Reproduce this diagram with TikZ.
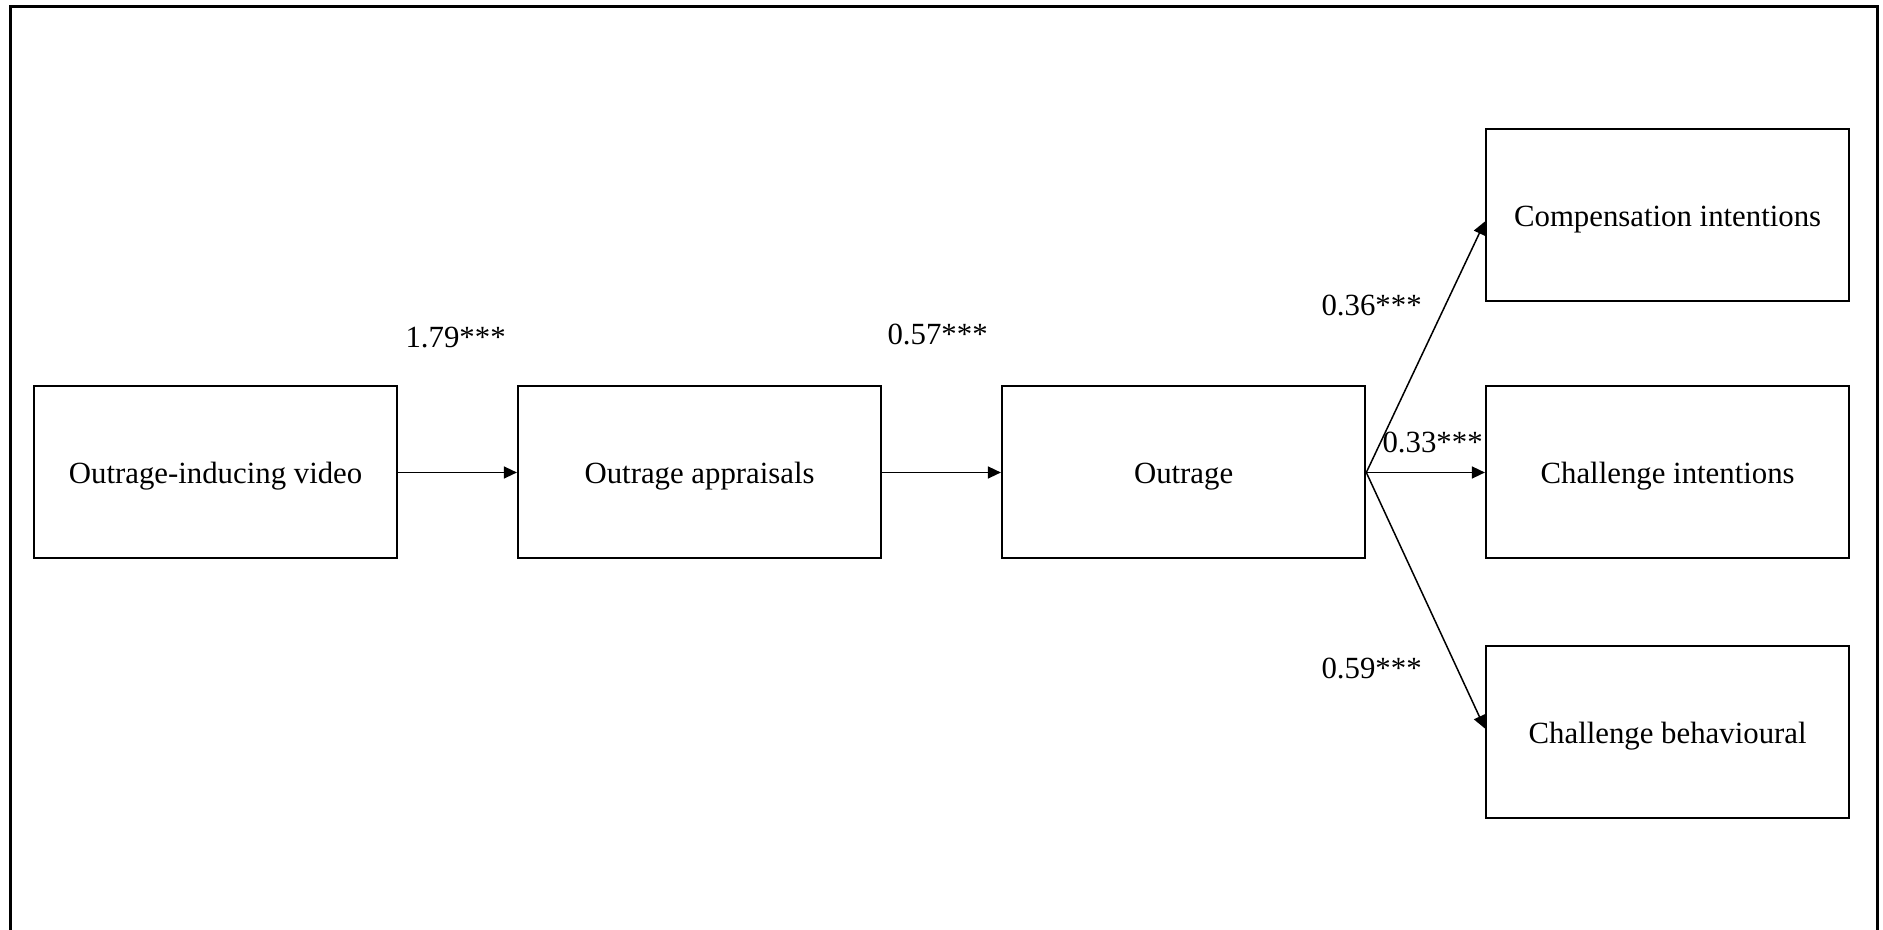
\documentclass[tikz,border=0pt]{standalone}
\usepackage{fontspec}
\setmainfont{Liberation Serif}
\usetikzlibrary{arrows.meta,positioning}
\begin{document}
\begin{tikzpicture}[
  node distance=43pt and 59.3pt,
  box/.style={draw, line width=1pt, minimum width=181.7pt, minimum height=86pt, inner sep=0pt, text height=14pt, text depth=3.3pt, font=\fontsize{15.4}{18}\selectfont},
  lbl/.style={inner sep=0pt, font=\fontsize{15.4}{18}\selectfont},
  arr/.style={-{Triangle[length=6.5pt,width=6pt]}, line width=0.75pt}
]
\useasboundingbox (-107.8pt,236.25pt) rectangle (833.7pt,-228.75pt);
\draw[line width=1.5pt] (-102.3pt,-240pt) -- (-102.3pt,232.75pt) -- (830.7pt,232.75pt) -- (830.7pt,-240pt);
\node[box] (vid) at (0,0) {Outrage-inducing video};
\node[box, right=of vid] (app) {Outrage appraisals};
\node[box, right=of app] (out) {Outrage};
\node[box, right=of out] (chint) {Challenge intentions};
\node[box, above=41.5pt of chint] (comp) {Compensation intentions};
\node[box, below=of chint] (chbeh) {Challenge behavioural};
\draw[arr] (vid) -- node[lbl, yshift=67.5pt, xshift=-1pt] {1.79***} (app);
\draw[arr] (app) -- node[lbl, yshift=69pt, xshift=-2pt] {0.57***} (out);
\draw[arr] (out.east) -- node[lbl, xshift=-27pt, yshift=21pt] {0.36***} ([yshift=-3pt]comp.west);
\draw[arr] (out.east) -- node[lbl, xshift=3.5pt, yshift=15pt] {0.33***} (chint.west);
\draw[arr] (out.east) -- node[lbl, xshift=-27pt, yshift=-34pt] {0.59***} ([yshift=2pt]chbeh.west);
\end{tikzpicture}
\end{document}
